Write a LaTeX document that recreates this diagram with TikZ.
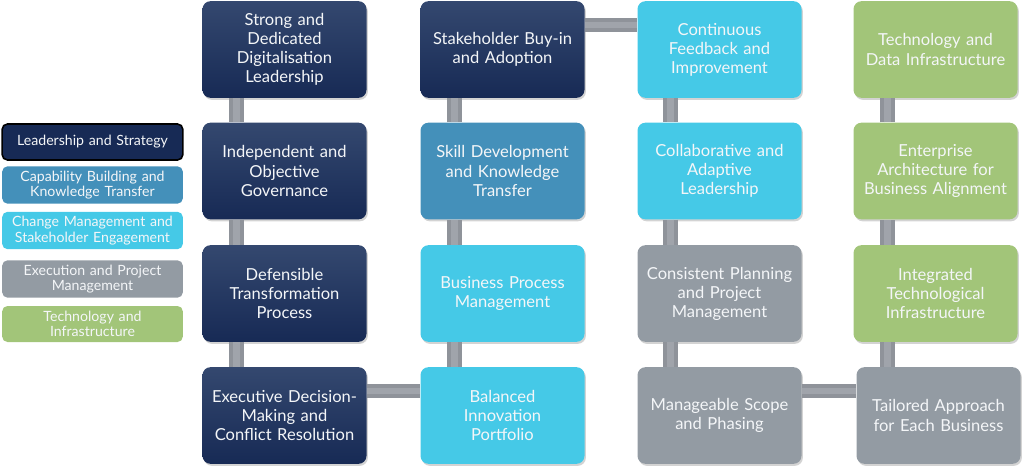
\documentclass[tikz,border=0pt]{standalone}
\usepackage{fontspec}
\setmainfont{Lato}
\usetikzlibrary{calc,shadows}
\definecolor{navytop}{HTML}{34486F}
\definecolor{navybot}{HTML}{172A55}
\definecolor{capblue}{HTML}{4490BA}
\definecolor{chgcyan}{HTML}{45C9E7}
\definecolor{exegray}{HTML}{939BA3}
\definecolor{techgreen}{HTML}{A2C579}
\definecolor{barcol}{HTML}{8F939A}
\definecolor{barlight}{HTML}{A0A4AB}
\definecolor{txt}{HTML}{F4F6F8}
\tikzset{
  box/.style={rounded corners=6pt, minimum width=123pt, minimum height=72.5pt,
    text width=114pt, inner xsep=3pt, align=center, text=txt,
    font=\fontsize{12.4pt}{14.3pt}\selectfont,
    drop shadow={opacity=0.35, shadow xshift=1pt, shadow yshift=-1.5pt}},
  leadbox/.style={box, top color=navytop, bottom color=navybot},
  capbox/.style={box, fill=capblue},
  chgbox/.style={box, fill=chgcyan},
  exebox/.style={box, fill=exegray},
  techbox/.style={box, fill=techgreen},
  legbox/.style={rounded corners=4pt, minimum width=135.5pt, minimum height=27pt,
    text width=129pt, inner xsep=2pt, align=center, text=txt,
    font=\fontsize{10.6pt}{11.6pt}\selectfont},
  conn/.style={barcol, line width=11pt, postaction={draw, barlight, line width=5pt}}
}
\begin{document}
\begin{tikzpicture}[x=0.75pt,y=-0.75pt]
\useasboundingbox (0,0) rectangle (1024,470);
% legend
\node[legbox, fill=navybot, draw=black, line width=1.2pt] (l1) at (92.5,142) {Leadership and Strategy};
\node[legbox, fill=capblue] (l2) at (92.5,185) {Capability Building and\\Knowledge Transfer};
\node[legbox, fill=chgcyan] (l3) at (92.5,230.5) {Change Management and\\Stakeholder Engagement};
\node[legbox, fill=exegray] (l4) at (92.5,279) {Execution and Project\\Management};
\node[legbox, fill=techgreen] (l5) at (92.5,324) {Technology and\\Infrastructure};
% column 1
\node[leadbox] (a1) at (284.5,49.5) {Strong and\\Dedicated\\Digitalisation\\Leadership};
\node[leadbox] (a2) at (284.5,171) {Independent and\\Objective\\Governance};
\node[leadbox] (a3) at (284.5,293.5) {Defensible\\Transformation\\Process};
\node[leadbox] (a4) at (284.5,415.5) {Executive Decision-\\Making and\\Conflict Resolution};
% column 2
\node[leadbox] (b1) at (502.5,49.5) {Stakeholder Buy-in\\and Adoption};
\node[capbox] (b2) at (502.5,171) {Skill Development\\and Knowledge\\Transfer};
\node[chgbox] (b3) at (502.5,293.5) {Business Process\\Management};
\node[chgbox] (b4) at (502.5,415.5) {Balanced\\Innovation\\Portfolio};
% column 3
\node[chgbox] (c1) at (719.5,49.5) {Continuous\\Feedback and\\Improvement};
\node[chgbox] (c2) at (719.5,171) {Collaborative and\\Adaptive\\Leadership};
\node[exebox] (c3) at (719.5,293.5) {Consistent Planning\\and Project\\Management};
\node[exebox] (c4) at (719.5,415.5) {Manageable Scope\\and Phasing};
% column 4
\node[techbox] (d1) at (935.5,49.5) {Technology and\\Data Infrastructure};
\node[techbox] (d2) at (935.5,171) {Enterprise\\Architecture for\\Business Alignment};
\node[techbox] (d3) at (935.5,293.5) {Integrated\\Technological\\Infrastructure};
\node[exebox] (d4) at (938.5,415.5) {Tailored Approach\\for Each Business};
% connectors
\draw[conn] ($(a1.south west)+(34,0)$) -- ($(a2.north west)+(34,0)$);
\draw[conn] ($(a2.south west)+(34,0)$) -- ($(a3.north west)+(34,0)$);
\draw[conn] ($(a3.south west)+(34,0)$) -- ($(a4.north west)+(34,0)$);
\draw[conn] ($(a4.north east)+(0,24)$) -- ($(b4.north west)+(0,24)$);
\draw[conn] ($(b4.north west)+(34,0)$) -- ($(b3.south west)+(34,0)$);
\draw[conn] ($(b3.north west)+(34,0)$) -- ($(b2.south west)+(34,0)$);
\draw[conn] ($(b2.north west)+(34,0)$) -- ($(b1.south west)+(34,0)$);
\draw[conn] ($(b1.north east)+(0,24)$) -- ($(c1.north west)+(0,24)$);
\draw[conn] ($(c1.south west)+(33,0)$) -- ($(c2.north west)+(33,0)$);
\draw[conn] ($(c2.south west)+(33,0)$) -- ($(c3.north west)+(33,0)$);
\draw[conn] ($(c3.south west)+(33,0)$) -- ($(c4.north west)+(33,0)$);
\draw[conn] ($(c4.north east)+(0,24)$) -- ($(d4.north west)+(0,24)$);
\draw[conn] ($(d4.north west)+(31,0)$) -- ($(d3.south west)+(34,0)$);
\draw[conn] ($(d3.north west)+(34,0)$) -- ($(d2.south west)+(34,0)$);
\draw[conn] ($(d2.north west)+(34,0)$) -- ($(d1.south west)+(34,0)$);
\end{tikzpicture}
\end{document}
